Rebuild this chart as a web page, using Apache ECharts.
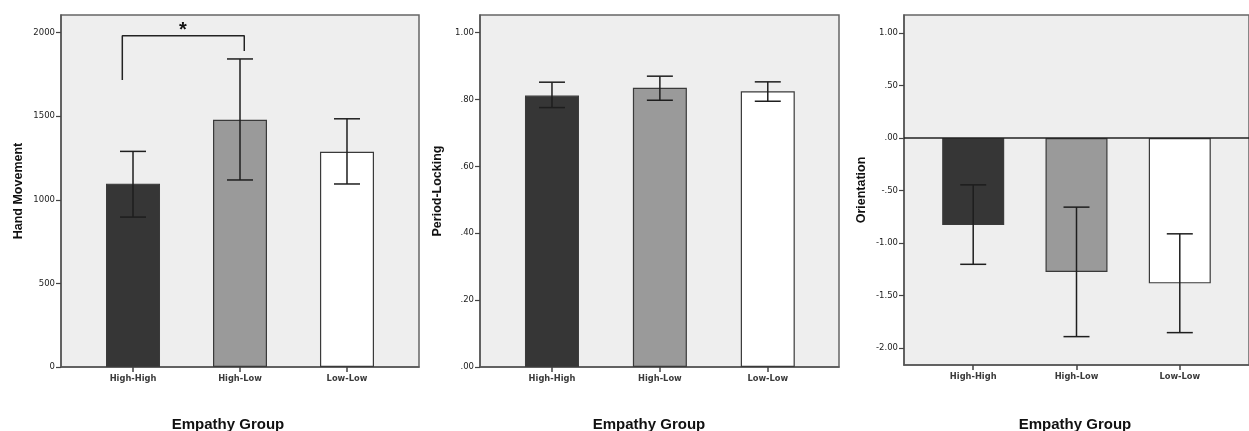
<!DOCTYPE html>
<html>
<head>
<meta charset="utf-8">
<script src="https://cdn.jsdelivr.net/npm/echarts@6/dist/echarts.min.js"></script>
<style>html,body{margin:0;padding:0;background:#fff}#c{width:1249px;height:431px}</style>
</head>
<body>
<div id="c"></div>
<script>
// ---- data ----
const categories = ['High-High', 'High-Low', 'Low-Low'];
const xTitle = 'Empathy Group';

const handName = 'Hand Movement';
const handMean = [1097, 1479, 1288];
const handLow = [897, 1119, 1095];
const handHigh = [1290, 1843, 1485];
const handTicks = [0, 500, 1000, 1500, 2000];

const plName = 'Period-Locking';
const plMean = [0.812, 0.835, 0.825];
const plLow = [0.776, 0.798, 0.795];
const plHigh = [0.852, 0.870, 0.853];
const plTicks = [0, 0.2, 0.4, 0.6, 0.8, 1.0];

const orName = 'Orientation';
const orMean = [-0.829, -1.275, -1.383];
const orLow = [-1.202, -1.890, -1.852];
const orHigh = [-0.446, -0.658, -0.912];
const orTicks = [-2.0, -1.5, -1.0, -0.5, 0, 0.5, 1.0];

// significance bracket (High-High vs High-Low), in data units of panel 1
const bracketPts = [[-0.1, 1717], [-0.1, 1982], [1.04, 1982], [1.04, 1890]];
const starPt = [0.467, 2046];
const starText = '*';

// ---- styling / layout ----
const barColors = ['#363636', '#9a9a9a', '#ffffff'];
const grids = [
  {left: 61, top: 15, width: 358, height: 352},
  {left: 480, top: 15, width: 359, height: 352},
  {left: 904, top: 15, width: 354, height: 350}
];
const xRanges = [[-0.673, 2.673], [-0.667, 2.66], [-0.67, 2.67]];
const yRanges = [[0, 2106], [0, 1.053], [-2.16, 1.17]];
const barWidths = [54, 54, 62];
const titleX = [223, 644, 1070];

const panels = [
  {name: handName, mean: handMean, low: handLow, high: handHigh, ticks: handTicks, fmt: v => String(v)},
  {name: plName, mean: plMean, low: plLow, high: plHigh, ticks: plTicks, fmt: dec},
  {name: orName, mean: orMean, low: orLow, high: orHigh, ticks: orTicks, fmt: dec}
];
function dec(v) { return v.toFixed(2).replace(/^(-?)0\./, '$1.'); }

const yTickFont = {fontFamily: 'DejaVu Sans', fontSize: 8.5, color: '#222'};
const xTickFont = {fontFamily: 'DejaVu Sans', fontSize: 8.3, fontWeight: 'bold', color: '#3a3a3a'};

const option = {
  animation: false,
  backgroundColor: '#fff',
  title: titleX.map(x => ({
    text: xTitle, left: x, top: 412, textAlign: 'center',
    textStyle: {fontFamily: 'Liberation Sans', fontWeight: 'bold', fontSize: 15, color: '#111'}
  })),
  grid: grids.map(g => Object.assign({show: true, backgroundColor: '#eeeeee', borderColor: '#666', borderWidth: 1.5, containLabel: false}, g)),
  xAxis: panels.map((p, i) => ({
    type: 'value', gridIndex: i, min: xRanges[i][0], max: xRanges[i][1],
    splitLine: {show: false},
    axisLine: {show: true, onZero: false, lineStyle: {color: '#555', width: 1.5}},
    axisTick: {show: true, customValues: [0, 1, 2], length: 5, lineStyle: {color: '#444', width: 1.5}},
    axisLabel: Object.assign({customValues: [0, 1, 2], margin: 8, formatter: v => categories[Math.round(v)] || ''}, xTickFont)
  })),
  yAxis: panels.map((p, i) => ({
    type: 'value', gridIndex: i, min: yRanges[i][0], max: yRanges[i][1],
    name: p.name, nameLocation: 'middle', nameGap: 36,
    nameTextStyle: {fontFamily: 'Liberation Sans', fontWeight: 'bold', fontSize: 12.5, color: '#111'},
    splitLine: {show: false},
    axisLine: {show: true, onZero: false, lineStyle: {color: '#555', width: 1.5}},
    axisTick: {show: true, customValues: p.ticks, length: 5, lineStyle: {color: '#444', width: 1.2}},
    axisLabel: Object.assign({customValues: p.ticks, margin: 6, formatter: p.fmt}, yTickFont)
  })),
  series: []
};

panels.forEach((p, i) => {
  const s = {
    type: 'bar', xAxisIndex: i, yAxisIndex: i, barWidth: barWidths[i],
    data: p.mean.map((v, k) => ({value: [k, v], itemStyle: {color: barColors[k], borderColor: '#3a3a3a', borderWidth: 1.2}})),
    z: 2
  };
  if (i === 2) {
    s.markLine = {silent: true, symbol: 'none', label: {show: false},
      lineStyle: {color: '#222', width: 1.5, type: 'solid'}, data: [{yAxis: 0}]};
  }
  option.series.push(s);
  option.series.push({
    type: 'custom', xAxisIndex: i, yAxisIndex: i, z: 5,
    data: p.mean.map((v, k) => [k, p.low[k], p.high[k]]),
    encode: {x: 0, y: [1, 2]},
    renderItem: (params, api) => {
      const x = api.value(0);
      const a = api.coord([x, api.value(2)]);
      const b = api.coord([x, api.value(1)]);
      const hw = 13;
      const st = {stroke: '#1e1e1e', lineWidth: 1.5};
      return {type: 'group', children: [
        {type: 'line', shape: {x1: a[0], y1: a[1], x2: b[0], y2: b[1]}, style: st},
        {type: 'line', shape: {x1: a[0] - hw, y1: a[1], x2: a[0] + hw, y2: a[1]}, style: st},
        {type: 'line', shape: {x1: b[0] - hw, y1: b[1], x2: b[0] + hw, y2: b[1]}, style: st}
      ]};
    }
  });
});

option.series.push({
  type: 'line', xAxisIndex: 0, yAxisIndex: 0, data: bracketPts, symbol: 'none', z: 5,
  lineStyle: {color: '#222', width: 1.5}
});
option.series.push({
  type: 'custom', xAxisIndex: 0, yAxisIndex: 0, z: 5, data: [starPt],
  renderItem: (params, api) => {
    const c = api.coord([api.value(0), api.value(1)]);
    return {type: 'text', x: c[0], y: c[1] + 5, style: {text: starText, fontSize: 20, fontWeight: 'bold', fontFamily: 'Liberation Sans', fill: '#111', align: 'center', verticalAlign: 'middle'}};
  }
});

const chart = echarts.init(document.getElementById('c'), null, {renderer: 'canvas'});
chart.setOption(option);
</script>
</body>
</html>
